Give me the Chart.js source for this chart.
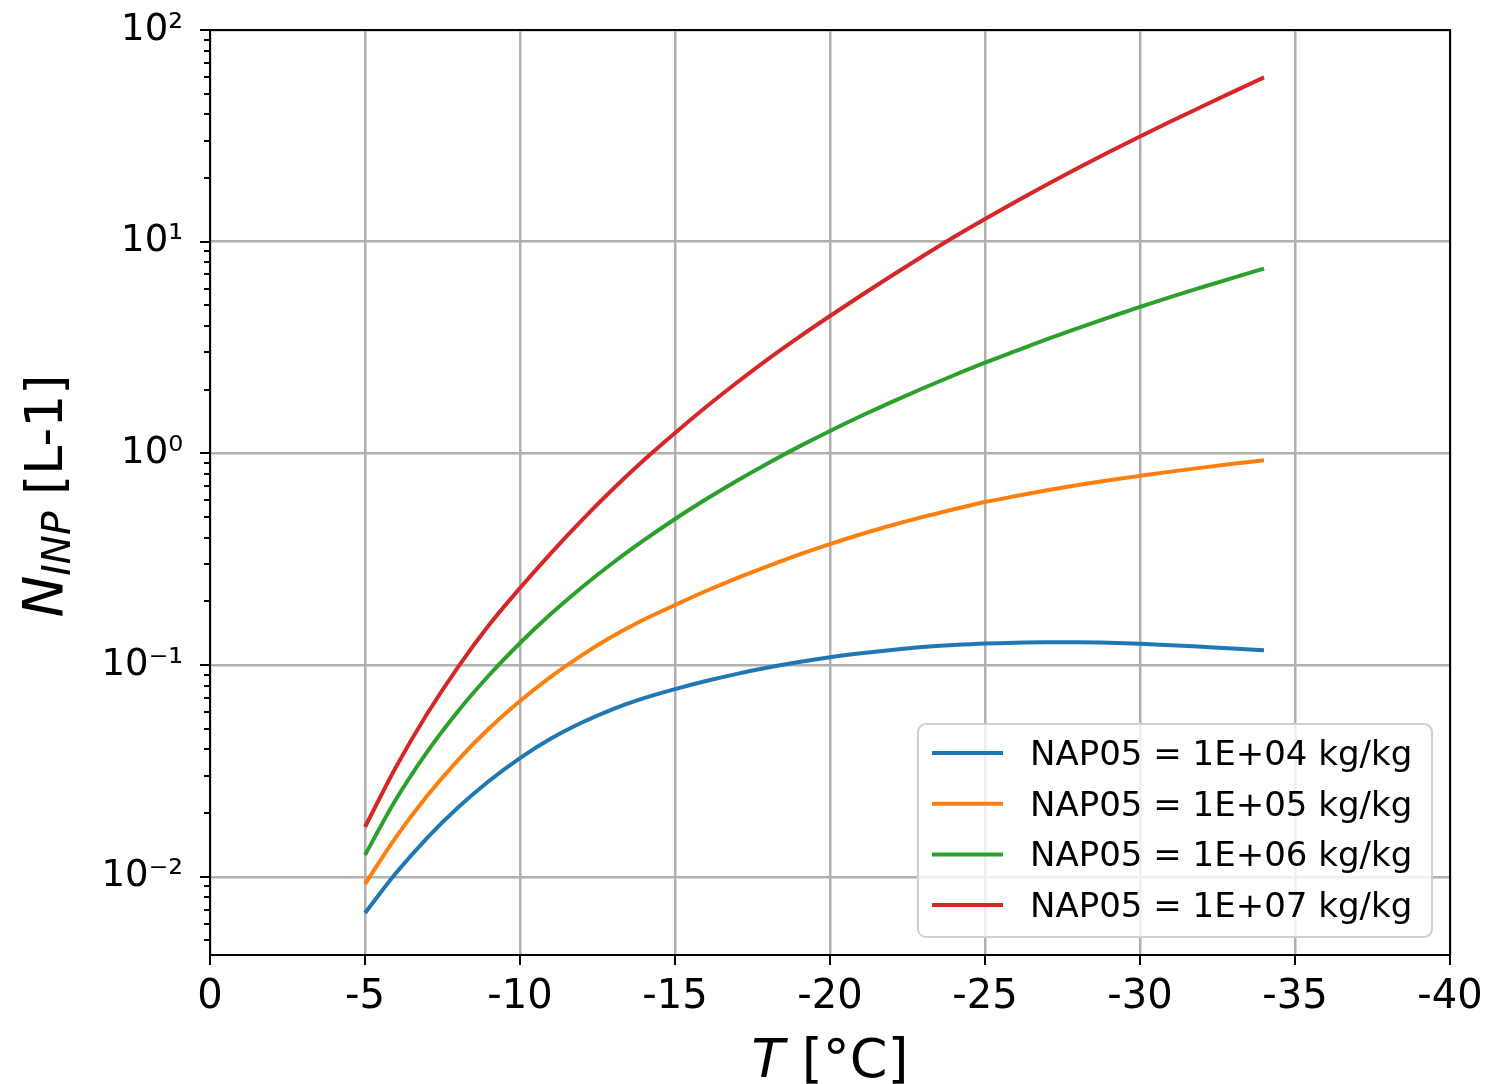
<!DOCTYPE html>
<html>
<head>
<meta charset="utf-8">
<title>NINP vs T</title>
<script src="https://cdn.jsdelivr.net/npm/chart.js"></script>
<style>
    body { margin: 0; background: #ffffff; }
    canvas { display: block; }
</style>
</head>
<body>
<canvas id="chartINP" width="1486" height="1084"></canvas>
<script>
// Temperaturas (°C) y concentraciones de INP (L-1) por cada NAP05
const temperaturas = [-5, -6, -7, -8, -9, -10, -11, -12, -13, -14, -15, -16, -17, -18, -19, -20,
    -21, -22, -23, -24, -25, -26, -27, -28, -29, -30, -31, -32, -33, -34];
const nap1e4 = [0.00674, 0.01041, 0.01524, 0.02123, 0.02833, 0.03637, 0.04496, 0.05353, 0.06197, 0.0698,
    0.07702, 0.08406, 0.09089, 0.09734, 0.1033, 0.1088, 0.1136, 0.1179, 0.1216, 0.1243,
    0.1264, 0.1276, 0.1281, 0.1281, 0.1275, 0.1261, 0.1242, 0.1220, 0.1198, 0.1175];
const nap1e5 = [0.00924, 0.01540, 0.02405, 0.03559, 0.05013, 0.06761, 0.08826, 0.1115, 0.1371, 0.1641,
    0.1921, 0.2238, 0.2577, 0.2936, 0.3327, 0.3728, 0.4150, 0.4576, 0.5010, 0.5446,
    0.5891, 0.6288, 0.6690, 0.7085, 0.7466, 0.7832, 0.8199, 0.8564, 0.8924, 0.9281];
const nap1e6 = [0.01267, 0.02323, 0.03882, 0.06053, 0.0895, 0.1271, 0.1746, 0.2333, 0.3043, 0.389,
    0.4899, 0.607, 0.743, 0.899, 1.076, 1.276, 1.501, 1.752, 2.031, 2.34,
    2.682, 3.05, 3.462, 3.91, 4.391, 4.92, 5.485, 6.09, 6.751, 7.46];
const nap1e7 = [0.01718, 0.0330, 0.0587, 0.0979, 0.1546, 0.2312, 0.3382, 0.4842, 0.6785, 0.930,
    1.248, 1.656, 2.161, 2.790, 3.545, 4.456, 5.568, 6.92, 8.555, 10.52,
    12.80, 15.48, 18.63, 22.28, 26.52, 31.40, 37.04, 43.5, 51.01, 59.7];

const etiquetas = ['NAP05 = 1E+04 kg/kg', 'NAP05 = 1E+05 kg/kg', 'NAP05 = 1E+06 kg/kg', 'NAP05 = 1E+07 kg/kg'];
const colores = ['#1f77b4', '#ff7f0e', '#2ca02c', '#d62728'];
const series = [nap1e4, nap1e5, nap1e6, nap1e7];

const ticksX = [0, -5, -10, -15, -20, -25, -30, -35, -40];
const yMin = 0.00427;
const yMax = 100;

const FUENTE = '"DejaVu Sans", "Liberation Sans", sans-serif';
const SUPER = { '-': '\u207B', '0': '\u2070', '1': '\u00B9', '2': '\u00B2', '3': '\u00B3' };

function esPotencia(v) {
    const l = Math.log10(v);
    return Math.abs(l - Math.round(l)) < 1e-9;
}

function etiquetaPotencia(v) {
    const exp = String(Math.round(Math.log10(v)));
    return '10' + exp.split('').map(c => SUPER[c]).join('');
}

// Marco, marcas de ejes, títulos y leyenda dentro del área
const extras = {
    id: 'extras',
    afterDraw(chart) {
        const ctx = chart.ctx;
        const a = chart.chartArea;
        const sx = chart.scales.x;
        const sy = chart.scales.y;

        ctx.save();
        ctx.strokeStyle = '#000';
        ctx.lineWidth = 2;

        // marcas del eje y (mayores y menores)
        for (let e = -3; e <= 2; e++) {
            for (let k = 1; k <= 9; k++) {
                const v = k * Math.pow(10, e);
                if (v < yMin || v > yMax) continue;
                const py = Math.round(sy.getPixelForValue(v));
                const len = k === 1 ? 10 : 6;
                ctx.beginPath();
                ctx.moveTo(a.left - len, py);
                ctx.lineTo(a.left, py);
                ctx.stroke();
            }
        }
        // marcas del eje x
        ticksX.forEach(t => {
            const px = Math.round(sx.getPixelForValue(t));
            ctx.beginPath();
            ctx.moveTo(px, a.bottom);
            ctx.lineTo(px, a.bottom + 10);
            ctx.stroke();
        });

        ctx.strokeRect(a.left, a.top, a.right - a.left, a.bottom - a.top);

        // título eje x
        ctx.fillStyle = '#000';
        ctx.textBaseline = 'alphabetic';
        const fT = 'italic 54px ' + FUENTE;
        const fR = '54px ' + FUENTE;
        ctx.font = fT;
        const wT = ctx.measureText('T').width;
        ctx.font = fR;
        const wR = ctx.measureText(' [°C]').width;
        let x0 = (a.left + a.right) / 2 - (wT + wR) / 2;
        ctx.font = fT;
        ctx.fillText('T', x0, 1077);
        ctx.font = fR;
        ctx.fillText(' [°C]', x0 + wT, 1077);

        // título eje y (rotado)
        const fN = 'italic 56px ' + FUENTE;
        const fSub = 'italic 39px ' + FUENTE;
        const fU = '52px ' + FUENTE;
        ctx.font = fN;
        const wN = ctx.measureText('N').width;
        ctx.font = fSub;
        const wSub = ctx.measureText('INP').width;
        ctx.font = fU;
        const wU = ctx.measureText(' [L-1]').width;
        const total = wN + wSub + wU;
        ctx.save();
        ctx.translate(62, 496 + total / 2);
        ctx.rotate(-Math.PI / 2);
        ctx.font = fN;
        ctx.fillText('N', 0, 0);
        ctx.font = fSub;
        ctx.fillText('INP', wN, 8);
        ctx.font = fU;
        ctx.fillText(' [L-1]', wN + wSub, 0);
        ctx.restore();

        // leyenda
        const lx = 918, ly = 724, lw = 514, lh = 213, r = 8;
        ctx.beginPath();
        ctx.moveTo(lx + r, ly);
        ctx.arcTo(lx + lw, ly, lx + lw, ly + lh, r);
        ctx.arcTo(lx + lw, ly + lh, lx, ly + lh, r);
        ctx.arcTo(lx, ly + lh, lx, ly, r);
        ctx.arcTo(lx, ly, lx + lw, ly, r);
        ctx.closePath();
        ctx.fillStyle = 'rgba(255,255,255,0.8)';
        ctx.fill();
        ctx.strokeStyle = '#d0d0d0';
        ctx.lineWidth = 2;
        ctx.stroke();

        ctx.font = '34px ' + FUENTE;
        chart.data.datasets.forEach((ds, i) => {
            const fy = 753 + i * 50.7;
            ctx.strokeStyle = ds.borderColor;
            ctx.lineWidth = 4;
            ctx.beginPath();
            ctx.moveTo(932, fy);
            ctx.lineTo(1003, fy);
            ctx.stroke();
            ctx.fillStyle = '#000';
            ctx.fillText(ds.label, 1030, fy + 12);
        });

        ctx.restore();
    }
};

function renderChart() {
    const datasets = series.map((s, i) => ({
        label: etiquetas[i],
        data: temperaturas.map((t, j) => ({ x: t, y: s[j] })),
        borderColor: colores[i],
        backgroundColor: colores[i],
        borderWidth: 4,
        pointRadius: 0,
        cubicInterpolationMode: 'monotone',
        fill: false
    }));

    new Chart(document.getElementById('chartINP'), {
        type: 'line',
        data: { datasets },
        plugins: [extras],
        options: {
            responsive: false,
            animation: false,
            devicePixelRatio: 1,
            layout: { padding: { left: 0, top: 30, right: 36, bottom: 0 } },
            plugins: {
                legend: { display: false },
                tooltip: { enabled: false }
            },
            scales: {
                x: {
                    type: 'linear',
                    min: -40,
                    max: 0,
                    reverse: true,
                    afterFit: (scale) => {
                        scale.height = 129;
                        scale.paddingLeft = 0;
                        scale.paddingRight = 0;
                    },
                    afterBuildTicks: (scale) => { scale.ticks = ticksX.map(v => ({ value: v })); },
                    ticks: {
                        color: '#000',
                        font: { family: FUENTE, size: 40 },
                        padding: 19,
                        maxRotation: 0,
                        autoSkip: false,
                        callback: (v) => String(v)
                    },
                    grid: { color: '#b0b0b0', lineWidth: 2.5, drawTicks: false },
                    border: { display: false }
                },
                y: {
                    type: 'logarithmic',
                    min: yMin,
                    max: yMax,
                    afterFit: (scale) => {
                        scale.width = 210;
                        scale.paddingTop = 0;
                        scale.paddingBottom = 0;
                    },
                    ticks: {
                        color: '#000',
                        font: { family: FUENTE, size: 37 },
                        padding: 27,
                        autoSkip: false,
                        callback: (v) => esPotencia(v) ? etiquetaPotencia(v) : ''
                    },
                    grid: {
                        color: (c) => (c.tick && esPotencia(c.tick.value)) ? '#b0b0b0' : 'rgba(0,0,0,0)',
                        lineWidth: 2.5,
                        drawTicks: false
                    },
                    border: { display: false }
                }
            }
        }
    });
}

document.addEventListener('DOMContentLoaded', () => {
    renderChart();
});
</script>
</body>
</html>
